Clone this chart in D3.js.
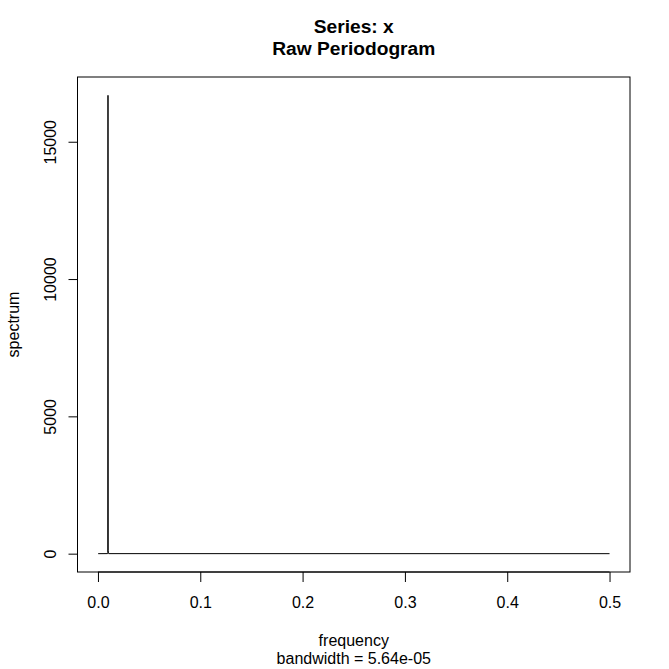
<!DOCTYPE html>
<html><head><meta charset="utf-8">
<script src="https://cdn.jsdelivr.net/npm/d3@7"></script>
<style>body{margin:0;background:#fff}svg{display:block}text{font-family:"Liberation Sans",Arial,Helvetica,sans-serif;fill:#000}</style>
</head><body><svg id="c" width="669" height="669"></svg>
<script>
const frequency = [0.0002, 0.0094, 0.0096, 0.0098, 0.0100, 0.0102, 0.0104, 0.5];
const spectrum  = [0, 2, 40, 16690, 120, 10, 1, 0];
const xTicks = [0, 0.1, 0.2, 0.3, 0.4, 0.5];
const yTicks = [0, 5000, 10000, 15000];
const titleLines = ["Series: x", "Raw Periodogram"];
const xLabel = "frequency";
const subLabel = "bandwidth = 5.64e-05";
const yLabel = "spectrum";

const svg = d3.select("#c");
const L = 77.5, R = 630, T = 77, B = 572;
const xMin = 0, xMax = 0.5, yMin = 0, yMax = d3.max(spectrum);
const xPad = (xMax - xMin) * 0.04, yPad = (yMax - yMin) * 0.04;
const x = d3.scaleLinear().domain([xMin - xPad, xMax + xPad]).range([L, R]);
const y = d3.scaleLinear().domain([yMin - yPad, yMax + yPad]).range([B, T]);
const FONT = "Liberation Sans, Arial, sans-serif";

const data = frequency.map((f, i) => [f, spectrum[i]]);
svg.append("path").datum(data)
  .attr("d", d3.line().x(d => x(d[0])).y(d => y(d[1])))
  .attr("fill", "none").attr("stroke", "#000").attr("stroke-width", 1);

svg.append("rect").attr("x", L).attr("y", T).attr("width", R - L).attr("height", B - T)
  .attr("fill", "none").attr("stroke", "#000").attr("stroke-width", 1);

// x axis
const gx = svg.append("g").attr("transform", `translate(0,${B})`)
  .call(d3.axisBottom(x).tickValues(xTicks).tickFormat(d3.format(".1f")).tickSize(10).tickSizeOuter(0));
gx.select(".domain").attr("d", `M${x(xTicks[0])},0H${x(xTicks[xTicks.length-1])}`);
gx.selectAll(".tick text").attr("y", 36).attr("dy", null)
  .attr("font-size", 16).attr("font-family", FONT);

// y axis
const gy = svg.append("g").attr("transform", `translate(${L},0)`)
  .call(d3.axisLeft(y).tickValues(yTicks).tickFormat(d3.format("d")).tickSize(9).tickSizeOuter(0));
gy.select(".domain").attr("d", `M0,${y(yTicks[0])}V${y(yTicks[yTicks.length-1])}`);
gy.selectAll(".tick text")
  .attr("x", 0).attr("y", 0).attr("dy", null)
  .attr("text-anchor", "middle")
  .attr("transform", "translate(-22,0) rotate(-90)")
  .attr("font-size", 16).attr("font-family", FONT);

const cx = (L + R) / 2;
svg.selectAll("text.title").data(titleLines).enter().append("text").attr("class", "title")
  .attr("x", cx).attr("y", (d, i) => 33 + i * 22)
  .attr("text-anchor", "middle").attr("font-weight", "bold").attr("font-size", 19.2)
  .text(d => d);

svg.append("text").attr("x", cx).attr("y", 646).attr("text-anchor", "middle").attr("font-size", 16).text(xLabel);
svg.append("text").attr("x", cx).attr("y", 664).attr("text-anchor", "middle").attr("font-size", 16).text(subLabel);
svg.append("text").attr("transform", `translate(19,${(T + B) / 2}) rotate(-90)`)
  .attr("text-anchor", "middle").attr("font-size", 16).text(yLabel);
</script></body></html>
